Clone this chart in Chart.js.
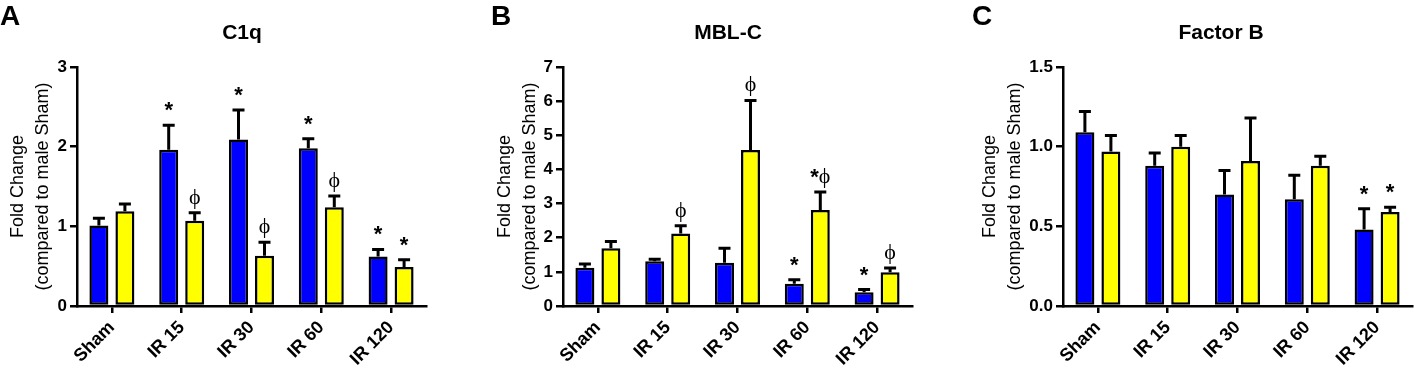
<!DOCTYPE html>
<html>
<head>
<meta charset="utf-8">
<script src="https://cdn.jsdelivr.net/npm/chart.js@4.4.1/dist/chart.umd.min.js"></script>
<style>
  html, body { margin: 0; padding: 0; background: #fff; width: 1414px; height: 369px; overflow: hidden; position: relative; }
  canvas { position: absolute; top: 0; }
</style>
</head>
<body>
<canvas id="panelA"></canvas>
<canvas id="panelB"></canvas>
<canvas id="panelC"></canvas>
<script>
// ── Data ──────────────────────────────────────────────────────
const categories = ["Sham", "IR 15", "IR 30", "IR 60", "IR 120"];

// A: C1q
const c1qBlue        = [1.01, 1.96, 2.09, 1.98, 0.62];
const c1qBlueErr     = [0.09, 0.31, 0.37, 0.12, 0.09];
const c1qYellow      = [1.19, 1.07, 0.63, 1.24, 0.49];
const c1qYellowErr   = [0.09, 0.10, 0.17, 0.14, 0.09];
const c1qBlueMarks   = ["", "*", "*", "*", "*"];
const c1qYellowMarks = ["", "ϕ", "ϕ", "ϕ", "*"];
const c1qTicks       = [0, 1, 2, 3];
const c1qTickLabels  = ["0", "1", "2", "3"];

// B: MBL-C
const mblBlue        = [1.12, 1.31, 1.27, 0.65, 0.40];
const mblBlueErr     = [0.11, 0.06, 0.42, 0.12, 0.08];
const mblYellow      = [1.69, 2.12, 4.57, 2.81, 0.99];
const mblYellowErr   = [0.20, 0.23, 1.45, 0.53, 0.12];
const mblBlueMarks   = ["", "", "", "*", "*"];
const mblYellowMarks = ["", "ϕ", "ϕ", "*ϕ", "ϕ"];
const mblTicks       = [0, 1, 2, 3, 4, 5, 6, 7];
const mblTickLabels  = ["0", "1", "2", "3", "4", "5", "6", "7"];

// C: Factor B
const fbBlue         = [1.09, 0.88, 0.70, 0.67, 0.48];
const fbBlueErr      = [0.13, 0.08, 0.15, 0.15, 0.13];
const fbYellow       = [0.97, 1.00, 0.91, 0.88, 0.59];
const fbYellowErr    = [0.10, 0.07, 0.27, 0.06, 0.03];
const fbBlueMarks    = ["", "", "", "", "*"];
const fbYellowMarks  = ["", "", "", "", "*"];
const fbTicks        = [0, 0.5, 1.0, 1.5];
const fbTickLabels   = ["0.0", "0.5", "1.0", "1.5"];

const yTitle = ["Fold Change", "(compared to male Sham)"];

Chart.defaults.font.family = '"Liberation Sans", Arial, sans-serif';
Chart.defaults.color = "#000";

// ── Significance marks (* sans, ϕ serif) ──────────────────────
function drawMark(ctx, text, cx, baseY) {
  if (!text) return;
  const parts = [...text].map((ch) => ({
    ch,
    font: ch === "*" ? 'bold 22px "Liberation Sans", Arial, sans-serif'
                     : '22px "Liberation Serif", "DejaVu Serif", serif',
  }));
  let total = 0;
  parts.forEach((p) => { ctx.font = p.font; p.w = ctx.measureText(p.ch).width; total += p.w; });
  let x = cx - total / 2;
  ctx.fillStyle = "#000";
  ctx.textAlign = "left";
  ctx.textBaseline = "alphabetic";
  parts.forEach((p) => {
    ctx.font = p.font;
    // asterisk sits high in the em box, drop it a little
    ctx.fillText(p.ch, x, p.ch === "*" ? baseY + 1 : baseY);
    x += p.w;
  });
}

// error bars (upper only) + marks above them
const errorBarPlugin = {
  id: "errorBars",
  afterDatasetsDraw(chart) {
    const ctx = chart.ctx;
    const y = chart.scales.y;
    chart.data.datasets.forEach((ds, di) => {
      chart.getDatasetMeta(di).data.forEach((bar, i) => {
        const top = y.getPixelForValue(ds.data[i] + ds.err[i]);
        ctx.save();
        ctx.strokeStyle = "#000";
        ctx.lineWidth = 3;
        ctx.beginPath();
        ctx.moveTo(bar.x, bar.y);
        ctx.lineTo(bar.x, top);
        ctx.moveTo(bar.x - 6, top);
        ctx.lineTo(bar.x + 6, top);
        ctx.stroke();
        drawMark(ctx, ds.marks[i], bar.x, top - 9);
        ctx.restore();
      });
    });
  },
};

// panel letter + chart title
const panelTextPlugin = {
  id: "panelText",
  afterDraw(chart) {
    const cfg = chart.options.plugins.panelText;
    const ctx = chart.ctx;
    ctx.save();
    ctx.fillStyle = "#000";
    ctx.textBaseline = "alphabetic";
    ctx.font = 'bold 28px "Liberation Sans", Arial, sans-serif';
    ctx.textAlign = "left";
    ctx.fillText(cfg.letter, cfg.letterX - cfg.left, 25);
    ctx.font = 'bold 21px "Liberation Sans", Arial, sans-serif';
    ctx.textAlign = "center";
    ctx.fillText(cfg.title, cfg.titleX - cfg.left, 39);
    ctx.restore();
  },
};

// ── Panel builder ─────────────────────────────────────────────
function buildPanel(id, cfg) {
  const canvas = document.getElementById(id);
  canvas.width = cfg.axisRight + 2 - cfg.left;
  canvas.height = 369;
  canvas.style.left = cfg.left + "px";

  return new Chart(canvas, {
    type: "bar",
    data: {
      labels: categories,
      datasets: [
        { data: cfg.blue, err: cfg.blueErr, marks: cfg.blueMarks,
          backgroundColor: "#0000ff", borderColor: "#000", borderWidth: 2.5, borderSkipped: false },
        { data: cfg.yellow, err: cfg.yellowErr, marks: cfg.yellowMarks,
          backgroundColor: "#ffff00", borderColor: "#000", borderWidth: 2.5, borderSkipped: false },
      ],
    },
    options: {
      responsive: false,
      animation: false,
      devicePixelRatio: 1,
      layout: { padding: { top: 67, right: 2, left: 0, bottom: 0 } },
      datasets: { bar: { categoryPercentage: 0.745, barPercentage: 0.73 } },
      plugins: {
        legend: { display: false },
        tooltip: { enabled: false },
        panelText: cfg,
      },
      scales: {
        x: {
          offset: true,
          grid: { display: true, drawOnChartArea: false, drawTicks: true, tickLength: 7,
                  offset: false, color: "#000", lineWidth: 2.5 },
          border: { display: true, color: "#000", width: 2.5 },
          ticks: { minRotation: 45, maxRotation: 45, autoSkip: false, padding: 4,
                   color: "#000", font: { size: 18, weight: "bold" } },
          afterFit: (s) => { s.height = 63; },
        },
        y: {
          min: 0,
          max: cfg.ticks[cfg.ticks.length - 1],
          afterBuildTicks: (s) => { s.ticks = cfg.ticks.map((v) => ({ value: v })); },
          ticks: { callback: (v, i) => cfg.tickLabels[i], padding: 3,
                   color: "#000", font: { size: 17, weight: "bold" } },
          grid: { display: true, drawOnChartArea: false, drawTicks: true, tickLength: 7,
                  color: "#000", lineWidth: 2.5 },
          border: { display: true, color: "#000", width: 2.5 },
          title: { display: true, text: yTitle, color: "#000",
                   font: { size: 18, lineHeight: 25 / 18 }, padding: { top: 5.5, bottom: 0 } },
          afterFit: (s) => { s.width = cfg.axisX - cfg.left; },
        },
      },
    },
    plugins: [errorBarPlugin, panelTextPlugin],
  });
}

buildPanel("panelA", {
  letter: "A", title: "C1q",
  left: 0, axisX: 77, axisRight: 426, letterX: 0, titleX: 242,
  blue: c1qBlue, blueErr: c1qBlueErr, blueMarks: c1qBlueMarks,
  yellow: c1qYellow, yellowErr: c1qYellowErr, yellowMarks: c1qYellowMarks,
  ticks: c1qTicks, tickLabels: c1qTickLabels,
});

buildPanel("panelB", {
  letter: "B", title: "MBL-C",
  left: 487, axisX: 563, axisRight: 912, letterX: 491, titleX: 728,
  blue: mblBlue, blueErr: mblBlueErr, blueMarks: mblBlueMarks,
  yellow: mblYellow, yellowErr: mblYellowErr, yellowMarks: mblYellowMarks,
  ticks: mblTicks, tickLabels: mblTickLabels,
});

buildPanel("panelC", {
  letter: "C", title: "Factor B",
  left: 972, axisX: 1063, axisRight: 1412, letterX: 972, titleX: 1221,
  blue: fbBlue, blueErr: fbBlueErr, blueMarks: fbBlueMarks,
  yellow: fbYellow, yellowErr: fbYellowErr, yellowMarks: fbYellowMarks,
  ticks: fbTicks, tickLabels: fbTickLabels,
});
</script>
</body>
</html>
